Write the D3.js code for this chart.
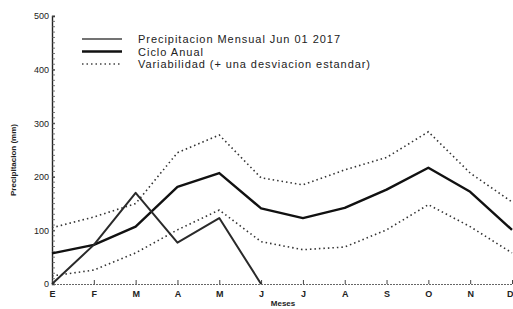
<!DOCTYPE html>
<html><head><meta charset="utf-8">
<script src="https://cdn.jsdelivr.net/npm/d3@7"></script>
<style>body{margin:0;background:#fff}svg{display:block}text{font-family:"Liberation Sans",Arial,sans-serif;fill:#222}</style>
</head><body><svg id="c" width="513" height="309"></svg>
<script>
const months = ["E","F","M","A","M","J","J","A","S","O","N","D"];
const monthKeys = months.map((m,i)=>i);
const mensual2017 = [0, 73, 170, 77, 123, 0];
const cicloAnual = [57, 73, 107, 181, 207, 141, 123, 142, 176, 217, 172, 101];
const varSuperior = [105, 125, 150, 245, 278, 198, 185, 213, 236, 284, 207, 153];
const varInferior = [15, 26, 58, 101, 138, 79, 64, 69, 101, 148, 107, 58];
const yTicks = [0, 100, 200, 300, 400, 500];
const legendLabels = ["Precipitacion Mensual Jun 01 2017","Ciclo Anual","Variabilidad (+ una desviacion estandar)"];

const svg = d3.select("#c");
const x = d3.scalePoint().domain(monthKeys).range([52, 512]);
const y = d3.scaleLinear().domain([0, 500]).range([284, 16]);

// axes
const gy = svg.append("g").attr("transform","translate(52,0)")
  .call(d3.axisLeft(y).tickValues(yTicks).tickSize(-3).tickPadding(3).tickFormat(d3.format("d")));
gy.select(".domain").attr("stroke","#222").attr("stroke-width",1.4);
gy.selectAll("text").attr("font-size",9).attr("fill","#333").attr("font-family","Liberation Sans, Arial");
gy.selectAll(".tick line").attr("stroke","#333");
const minor = d3.range(0, 501, 10);
svg.append("g").selectAll("line").data(minor).join("line")
  .attr("x1",52).attr("x2",55).attr("y1",d=>y(d)).attr("y2",d=>y(d))
  .attr("stroke","#555").attr("stroke-width",0.8);

const gx = svg.append("g").attr("transform","translate(0,284)")
  .call(d3.axisBottom(x).tickSize(-4).tickPadding(7).tickFormat(i=>months[i]));
gx.select(".domain").attr("stroke","#666").attr("stroke-width",1).attr("stroke-dasharray","2,1");
gx.selectAll("text").attr("font-size",9).attr("fill","#333").attr("font-weight","bold");
gx.selectAll(".tick line").attr("stroke","#444");
gx.selectAll(".tick").filter((d,i)=>i===months.length-1).select("text")
  .attr("text-anchor","end").attr("x",1);

svg.append("text").attr("transform","translate(16,160) rotate(-90)")
  .attr("text-anchor","middle").attr("font-size",8).attr("font-weight","bold").text("Precipitacion (mm)");
svg.append("text").attr("x",283).attr("y",306).attr("text-anchor","middle")
  .attr("font-size",8).attr("font-weight","bold").text("Meses");

const line = d3.line().x((d,i)=>x(i)).y(d=>y(d));
svg.append("path").datum(varSuperior).attr("d",line).attr("fill","none")
  .attr("stroke","#333").attr("stroke-width",1.6).attr("stroke-dasharray","1.5,3");
svg.append("path").datum(varInferior).attr("d",line).attr("fill","none")
  .attr("stroke","#333").attr("stroke-width",1.6).attr("stroke-dasharray","1.5,3");
svg.append("path").datum(cicloAnual).attr("d",line).attr("fill","none")
  .attr("stroke","#111").attr("stroke-width",2.4).attr("stroke-linejoin","round");
svg.append("path").datum(mensual2017).attr("d",line).attr("fill","none")
  .attr("stroke","#2a2a2a").attr("stroke-width",2).attr("stroke-linejoin","round");

// legend
const leg = svg.append("g");
const styles = [{w:1.4,c:"#444",d:null,len:202},{w:2.4,c:"#111",d:null,len:65},{w:1.6,c:"#444",d:"1.5,3",len:232}];
const rowsY = [39, 51.5, 64];
legendLabels.forEach((t,i)=>{
  const yy = rowsY[i];
  leg.append("line").attr("x1",82).attr("x2",122).attr("y1",yy).attr("y2",yy)
    .attr("stroke",styles[i].c).attr("stroke-width",styles[i].w).attr("stroke-dasharray",styles[i].d);
  leg.append("text").attr("x",138).attr("y",yy+4).attr("font-size",11).attr("fill","#333")
    .attr("textLength",styles[i].len).attr("lengthAdjust","spacing").text(t);
});
</script></body></html>
